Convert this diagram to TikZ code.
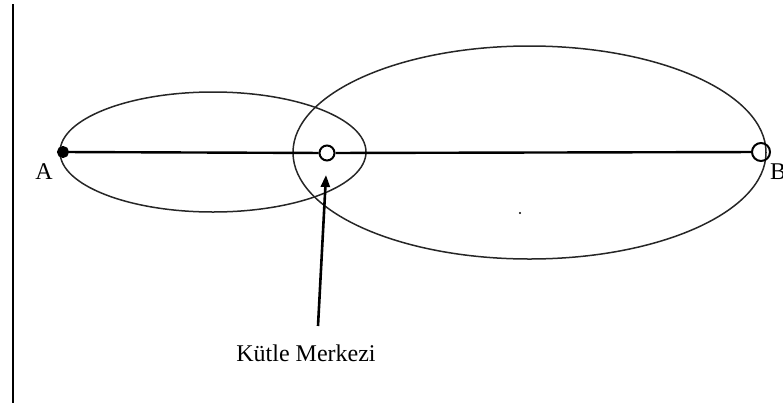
\documentclass[tikz,border=0pt]{standalone}
\usepackage{fontspec}
\setmainfont{Liberation Serif}
\usetikzlibrary{arrows.meta}
\begin{document}
\begin{tikzpicture}[x=1pt,y=-1pt,
  orbit/.style={draw=black!85,line width=1.5pt},
  mass/.style={circle,draw,line width=2pt,inner sep=0pt},
  lbl/.style={font=\fontsize{24}{28}\selectfont,inner sep=0pt}]
\useasboundingbox (0,0) rectangle (783,407);
\clip (0,0) rectangle (783,407);
\draw[line width=1.8pt] (13,4) -- (13,403);
\draw[orbit] (213,152) ellipse [x radius=153, y radius=60];
\draw[orbit] (529.5,152.5) ellipse [x radius=236.5, y radius=106.5];
\node[mass,fill=black,minimum size=10pt] (A) at (63,152) {};
\node[mass,minimum size=15pt] (C) at (327,153) {};
\node[mass,minimum size=18pt] (B) at (761,152) {};
\draw[line width=2.4pt] (A) -- (C) -- (B);
\node[lbl] (la) at (44,172) {A};
\node[lbl] (lb) at (778,172) {B};
\coordinate (tail) at (318,326);
\coordinate (tip) at (326,175);
\draw[line width=2.6pt,-{Triangle[length=12pt,width=9pt]}] (tail) -- (tip);
\node[lbl] (km) at (306,353) {Kütle Merkezi};
\fill (520,213) circle (1.2pt);
\end{tikzpicture}
\end{document}
